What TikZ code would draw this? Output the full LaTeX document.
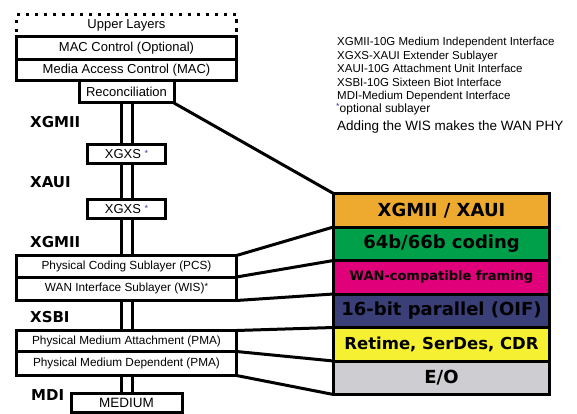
\documentclass[tikz,border=0pt]{standalone}
\usepackage{fontspec}
\setmainfont{Liberation Sans}
\newfontfamily\heavyfont{DejaVu Sans}
\usepackage{xcolor}
\usetikzlibrary{positioning}
\definecolor{xauiorange}{HTML}{EDAA2F}
\definecolor{codegreen}{HTML}{00A04B}
\definecolor{wanmagenta}{HTML}{E0007A}
\definecolor{oifnavy}{HTML}{3A3F78}
\definecolor{cdryellow}{HTML}{F6F032}
\definecolor{eogrey}{HTML}{CDCDD2}
\definecolor{starblue}{HTML}{3C3CA0}
\newcommand{\optstar}{\textcolor{starblue}{\raisebox{0.35ex}{\fontsize{9}{9}\selectfont *}}}
\tikzset{
  layer/.style={
    draw,
    rectangle,
    fill=white,
    line width=3pt,
    inner sep=0pt,
    outer sep=0pt,
    minimum width=220pt,
    font=\fontsize{13}{13}\selectfont
  },
  sublayer/.style={
    layer,
    font=\fontsize{11.8}{12}\selectfont
  },
  upperbox/.style={
    layer,
    dash pattern=on 3.5pt off 5.5pt
  },
  band/.style={
    draw,
    rectangle,
    line width=3pt,
    inner sep=0pt,
    outer sep=0pt,
    minimum width=216pt,
    minimum height=33.5pt,
    font=\heavyfont\bfseries\fontsize{18}{18}\selectfont
  },
  iface/.style={
    anchor=west,
    inner sep=0pt,
    font=\heavyfont\bfseries\fontsize{15}{15}\selectfont
  }
}

\begin{document}
\begin{tikzpicture}[x=1pt, y=-1pt]
  \useasboundingbox (0,0) rectangle (577,414);

  % Styles for the links
  \tikzset{
    link/.style={
      draw,
      line width=3pt,
      double=white,
      double distance=8pt,
      shorten <=1.5pt,
      shorten >=1.5pt
    },
    wire/.style={
      draw,
      line width=3pt
    }
  }

  % Left stack of layers
  \node[upperbox, minimum height=22.5pt] (upper) at (126.5,25.75) {Upper Layers};
  \node[layer, minimum height=22.5pt, below=0pt of upper] (macctl) {MAC Control (Optional)};
  \node[layer, minimum height=21.5pt, below=0pt of macctl] (mac) {Media Access Control (MAC)};
  \node[layer, minimum width=95pt, minimum height=22pt, below=0pt of mac] (recon) {Reconciliation};
  \node[layer, minimum width=78pt, minimum height=19pt] (xgxsa) at (126.5,154) {XGXS \optstar};
  \node[layer, minimum width=78pt, minimum height=19pt] (xgxsb) at (126.5,209) {XGXS \optstar};
  \node[sublayer, minimum height=21.5pt] (pcs) at (126.5,266.25) {Physical Coding Sublayer (PCS)};
  \node[sublayer, minimum height=23.5pt, below=0pt of pcs] (wis) {WAN Interface Sublayer (WIS)\raisebox{0.35ex}{\fontsize{9}{9}\selectfont *}};
  \node[sublayer, minimum height=21pt] (pma) at (126.5,341) {Physical Medium Attachment (PMA)};
  \node[sublayer, minimum height=24pt, below=0pt of pma] (pmd) {Physical Medium Dependent (PMA)};
  \node[layer, minimum width=111pt, minimum height=18.5pt, font=\fontsize{13.5}{13.5}\selectfont] (medium) at (126.5,402.75) {MEDIUM};

  % Interface labels
  \node[iface] (lxgmii) at (30,122) {XGMII};
  \node[iface] (lxaui) at (30,182) {XAUI};
  \node[iface] (lxgmiib) at (30,242) {XGMII};
  \node[iface] (lxsbi) at (30,317) {XSBI};
  \node[iface] (lmdi) at (31,395) {MDI};

  % Double links
  \draw[link] (recon) -- (xgxsa);
  \draw[link] (xgxsa) -- (xgxsb);
  \draw[link] (xgxsb) -- (pcs);
  \draw[link] (wis) -- (pma);
  \draw[link] (pmd) -- (medium);

  % Right stack of functions
  \node[band, fill=xauiorange] (xgmii) at (441.5,210.25) {XGMII / XAUI};
  \node[band, fill=codegreen, below=0pt of xgmii] (coding) {64b/66b coding};
  \node[band, fill=wanmagenta, below=0pt of coding, font=\heavyfont\bfseries\fontsize{13}{13}\selectfont] (framing) {WAN-compatible framing};
  \node[band, fill=oifnavy, below=0pt of framing] (parallel) {16-bit parallel (OIF)};
  \node[band, fill=cdryellow, below=0pt of parallel, font=\heavyfont\bfseries\fontsize{16.5}{16.5}\selectfont] (retime) {Retime, SerDes, CDR};
  \node[band, fill=eogrey, below=0pt of retime] (eo) {E/O};

  % Connect layers to functions
  \draw[wire] (recon.south east) -- (xgmii.north west);
  \draw[wire] (pcs.north east) -- (xgmii.south west);
  \draw[wire] (pcs.south east) -- (coding.south west);
  \draw[wire] (wis.south east) -- (framing.south west);
  \draw[wire] (pma.north east) -- (parallel.south west);
  \draw[wire] (pmd.north east) -- (retime.south west);
  \draw[wire] (pmd.south east) -- (eo.south west);

  % Legend
  \node[anchor=north west, align=left, inner sep=0pt, font=\fontsize{11.5}{13.5}\selectfont] (legend) at (337,37) {
    XGMII-10G Medium Independent Interface\\
    XGXS-XAUI Extender Sublayer\\
    XAUI-10G Attachment Unit Interface\\
    XSBI-10G Sixteen Biot Interface\\
    MDI-Medium Dependent Interface
  };
  \node[anchor=west, inner sep=0pt, font=\fontsize{12}{12}\selectfont] (optnote) at (336,109) {\optstar optional sublayer};
  \node[anchor=west, inner sep=0pt, font=\fontsize{13.5}{13.5}\selectfont] (wannote) at (337,127) {Adding the WIS makes the WAN PHY};
\end{tikzpicture}
\end{document}
